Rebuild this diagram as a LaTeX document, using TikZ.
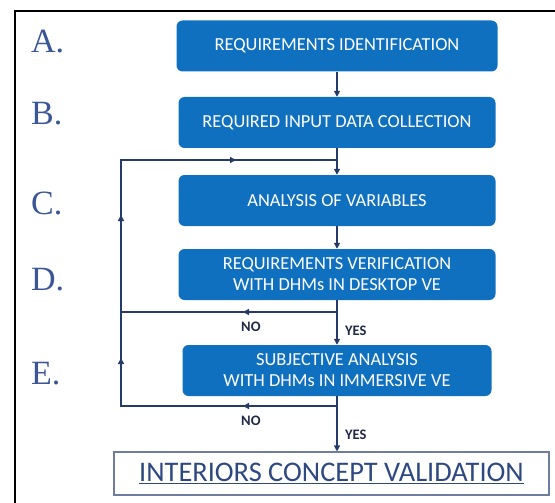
\documentclass[tikz,border=0pt]{standalone}
\usepackage{fontspec}
\setmainfont{Carlito}
\newfontfamily\serifletters{Liberation Serif}
\usetikzlibrary{arrows.meta,decorations.markings}

\definecolor{boxblue}{RGB}{16,112,192}
\definecolor{linenavy}{RGB}{36,58,105}
\definecolor{lettercol}{RGB}{58,86,150}
\definecolor{finaltext}{RGB}{46,72,130}
\definecolor{finalborder}{RGB}{110,125,160}
\definecolor{labelcol}{RGB}{30,42,70}

\begin{document}
\begin{tikzpicture}[x=1pt,y=-1pt,
  stepbox/.style={draw=none, fill=boxblue, rounded corners=6pt, text=white,
    font=\fontsize{18.4}{21}\selectfont, align=center, inner sep=0pt, minimum height=51pt},
  letter/.style={anchor=base west, inner sep=0pt, text=lettercol,
    font=\serifletters\fontsize{34}{34}\selectfont},
  conn/.style={color=linenavy, line width=2pt},
  tip/.style={-{Triangle[length=6pt,width=6pt]}},
  lbl/.style={inner sep=0pt, anchor=base west, text=labelcol,
    font=\bfseries\fontsize{14.5}{14.5}\selectfont},
]
\useasboundingbox (0,0) rectangle (555,503);

% frame
\draw[black, line width=2pt] (14.5,503) -- (14.5,11) -- (555,11);

% letters
\node[letter] (la) at (31,52.5) {A.};
\node[letter] (lb) at (31,124.5) {B.};
\node[letter] (lc) at (31,214) {C.};
\node[letter] (ld) at (31,290) {D.};
\node[letter] (le) at (31,384) {E.};

% boxes
\node[stepbox, minimum width=321pt] (A) at (337,46) {REQUIREMENTS IDENTIFICATION};
\node[stepbox, minimum width=317pt] (B) at (337,122.5) {REQUIRED INPUT DATA COLLECTION};
\node[stepbox, minimum width=317pt] (C) at (337,200.5) {ANALYSIS OF VARIABLES};
\node[stepbox, minimum width=317pt] (D) at (337,274.5) {REQUIREMENTS VERIFICATION\\WITH DHMs IN DESKTOP VE};
\node[stepbox, minimum width=309pt] (E) at (337,370.5) {SUBJECTIVE ANALYSIS\\WITH DHMs IN IMMERSIVE VE};
\node[draw=finalborder, line width=1.2pt, minimum width=435pt, minimum height=43pt,
  inner sep=0pt, text=finaltext, font=\fontsize{28.4}{28.4}\selectfont] (F) at (331.5,473.5)
  {\underline{INTERIORS CONCEPT VALIDATION}};

% loop coordinates
\coordinate (join) at (337,160);
\coordinate (top) at (121,160);
\coordinate (dturn) at (337,312);
\coordinate (dleft) at (121,312);
\coordinate (eturn) at (337,406);
\coordinate (eleft) at (121,406);

% main flow
\draw[conn,tip] (A) -- (B);
\draw[conn,tip] (B) -- (C);
\draw[conn,tip] (C) -- (D);
\draw[conn,tip] (D) -- (E);
\draw[conn,tip] (E.south) -- (E.south |- F.north);

% feedback loops
\draw[conn, postaction={decorate}, decoration={markings,
    mark=at position 94pt with {\arrow{Triangle[length=6pt,width=6pt]}},
    mark=at position 313pt with {\arrow{Triangle[length=6pt,width=6pt]}},
    mark=at position 483pt with {\arrow{Triangle[length=6pt,width=6pt]}}}]
  (dturn) -- (dleft) -- (top) -- (join);
\draw[conn, postaction={decorate}, decoration={markings,
    mark=at position 94pt with {\arrow{Triangle[length=6pt,width=6pt]}},
    mark=at position 264pt with {\arrow{Triangle[length=6pt,width=6pt]}}}]
  (eturn) -- (eleft) -- (dleft);

% labels
\node[lbl] (no1) at (241,331) {NO};
\node[lbl] (yes1) at (345,335) {YES};
\node[lbl] (no2) at (241,425) {NO};
\node[lbl] (yes2) at (345,439) {YES};
\end{tikzpicture}
\end{document}
